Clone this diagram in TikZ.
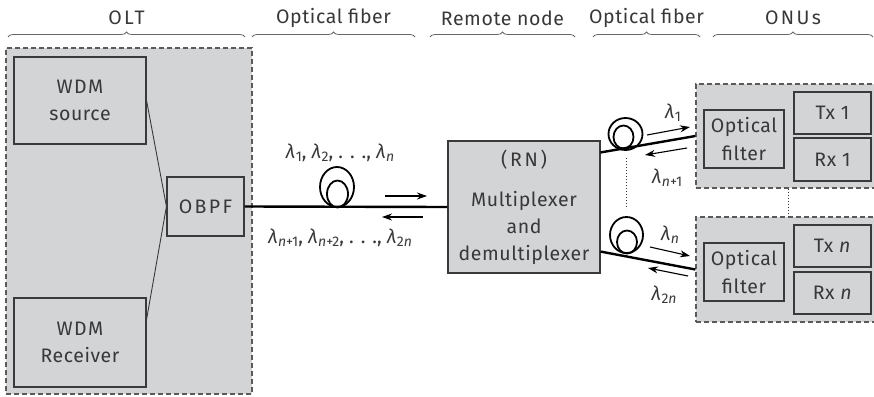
\documentclass[tikz,border=0pt]{standalone}
\usepackage{fontspec}
\setmainfont{Fira Sans}
\usetikzlibrary{arrows.meta,decorations.pathreplacing,calc}
\definecolor{panel}{HTML}{D3D4D6}
\definecolor{edgec}{HTML}{3A3A3A}
\definecolor{dashc}{HTML}{5A5A5A}
\newcommand\lmb[1]{\textit{λ}\kern0.5pt\raisebox{-3pt}{\fontsize{14}{14}\selectfont #1}}
\begin{document}
\begin{tikzpicture}[x=1pt,y=-1pt,
  every node/.style={font=\fontsize{19.5}{27}\selectfont\addfontfeature{LetterSpace=3}, text=black!78},
  blk/.style={draw=edgec, line width=1.1pt, fill=panel, inner sep=0pt, align=center},
  grp/.style={draw=dashc, line width=1.2pt, dash pattern=on 5pt off 3pt, fill=panel, inner sep=0pt},
  fiber/.style={line width=2.4pt, black},
  loopc/.style={line width=1.8pt, black},
  wire/.style={line width=0.9pt, edgec},
  dir/.style={line width=1.1pt, black, -{Stealth[length=10pt,width=7pt]}},
  brc/.style={decorate, decoration={brace, amplitude=5pt}, line width=0.8pt, black!60},
  hdr/.style={font=\fontsize{19.5}{22}\selectfont\addfontfeature{LetterSpace=12}},
  spaced/.style={font=\fontsize{19.5}{22}\selectfont\addfontfeature{LetterSpace=12}},
  plainhdr/.style={font=\fontsize{19.5}{22}\selectfont\addfontfeature{LetterSpace=3}},
  lam/.style={font=\fontsize{19.5}{20}\selectfont, inner sep=0pt},
  ]
\useasboundingbox (0,0) rectangle (874,396);

% group panels
\node[grp, minimum width=246pt, minimum height=346pt] (olt) at (129,221) {};
\node[grp, minimum width=184pt, minimum height=104pt] (onu1) at (788,136) {};
\node[grp, minimum width=184pt, minimum height=105pt] (onun) at (788,269.5) {};

% OLT blocks
\node[blk, minimum width=132pt, minimum height=87pt] (src) at (80,100.5) {{\addfontfeature{LetterSpace=8}WDM}\\source};
\node[blk, minimum width=132pt, minimum height=89pt] (rcv) at (80,342.5) {{\addfontfeature{LetterSpace=8}WDM}\\Receiver};
\node[blk, spaced, minimum width=77pt, minimum height=59pt] (obpf) at (205.5,206.5) {OBPF};

% remote node
\node[blk, minimum width=152pt, minimum height=132pt] (rn) at (524,207)
  {{\addfontfeature{LetterSpace=14}(RN)}\\[13pt]Multiplexer\\and\\demultiplexer};

% ONU blocks
\node[blk, minimum width=80pt, minimum height=58pt, font=\fontsize{19.5}{28}\selectfont\addfontfeature{LetterSpace=3}] (filt1) at (744,139) {Optical\\filter};
\node[blk, minimum width=77pt, minimum height=42pt] (tx1) at (832.5,113) {Tx 1};
\node[blk, minimum width=77pt, minimum height=43pt] (rx1) at (832.5,159.5) {Rx 1};
\node[blk, minimum width=80pt, minimum height=58pt, font=\fontsize{19.5}{28}\selectfont\addfontfeature{LetterSpace=3}] (filtn) at (744,272) {Optical\\filter};
\node[blk, minimum width=77pt, minimum height=42pt] (txn) at (832.5,246) {Tx \textit{n}};
\node[blk, minimum width=77pt, minimum height=42pt] (rxn) at (832.5,293) {Rx \textit{n}};

% OLT wiring
\draw[wire] (src.east) -- (obpf.west);
\draw[wire] ([yshift=-22pt]rcv.north east) -- (obpf.west);

% fibers
\draw[fiber] (obpf.east) -- (rn.west);
\draw[fiber] ([yshift=-12pt]rn.north east) -- (onu1.west);
\draw[fiber] ([yshift=22pt]rn.south east) -- (onun.west);

% fiber loops
\draw[loopc] (337,187) ellipse [x radius=17pt, y radius=20pt];
\draw[loopc] (337.5,194) ellipse [x radius=10.5pt, y radius=13.5pt];
\draw[loopc] (625.5,134) ellipse [x radius=17pt, y radius=16pt];
\draw[loopc] (623.5,137) ellipse [x radius=10pt, y radius=11.5pt];
\draw[loopc] (626.5,235) ellipse [x radius=16.5pt, y radius=18pt];
\draw[loopc] (627,242) ellipse [x radius=10pt, y radius=11.5pt];

% dotted links
\coordinate (dA) at (626,158);
\coordinate (dB) at (626,209);
\draw[line width=1pt, dotted, black!80] (dA) -- (dB);
\draw[line width=1pt, dotted, black!80] (onu1.south) -- (onun.north);

% direction arrows
\coordinate (a1s) at (385,196); \coordinate (a1e) at (427,196);
\coordinate (a2s) at (423,217); \coordinate (a2e) at (382,217);
\coordinate (a3s) at (647,135); \coordinate (a3e) at (690,127);
\coordinate (a4s) at (687,148); \coordinate (a4e) at (645,155);
\coordinate (a5s) at (650,247); \coordinate (a5e) at (690,256);
\coordinate (a6s) at (688,276); \coordinate (a6e) at (648,268);
\draw[dir] (a1s) -- (a1e);
\draw[dir] (a2s) -- (a2e);
\draw[dir] (a3s) -- (a3e);
\draw[dir] (a4s) -- (a4e);
\draw[dir] (a5s) -- (a5e);
\draw[dir] (a6s) -- (a6e);

% wavelength labels
\node[lam] (lup) at (340,153) {\lmb{1}, \lmb{2}, . . ., \lmb{\textit{n}}};
\node[lam] (ldn) at (340,238) {\lmb{\textit{n}+1}, \lmb{\textit{n}+2}, . . ., \lmb{2\textit{n}}};
\node[lam] (l1) at (673,113) {\lmb{1}};
\node[lam] (ln1) at (667,178) {\lmb{\textit{n}+1}};
\node[lam] (ln) at (670,235) {\lmb{\textit{n}}};
\node[lam] (l2n) at (664,295) {\lmb{2\textit{n}}};

% braces and headers
\coordinate (b1l) at (8,37);   \coordinate (b1r) at (245,37);
\coordinate (b2l) at (252,37); \coordinate (b2r) at (415,37);
\coordinate (b3l) at (430,37); \coordinate (b3r) at (575,37);
\coordinate (b4l) at (593,37); \coordinate (b4r) at (700,37);
\coordinate (b5l) at (713,37); \coordinate (b5r) at (873,37);
\draw[brc] (b1l) -- (b1r);
\draw[brc] (b2l) -- (b2r);
\draw[brc] (b3l) -- (b3r);
\draw[brc] (b4l) -- (b4r);
\draw[brc] (b5l) -- (b5r);
\node[hdr] (h1) at (126.5,18) {OLT};
\node[plainhdr] (h2) at (333.5,18) {Optical fiber};
\node[plainhdr] (h3) at (502.5,18) {Remote node};
\node[plainhdr] (h4) at (646.5,18) {Optical fiber};
\node[hdr] (h5) at (793,18) {ONUs};
\end{tikzpicture}
\end{document}
